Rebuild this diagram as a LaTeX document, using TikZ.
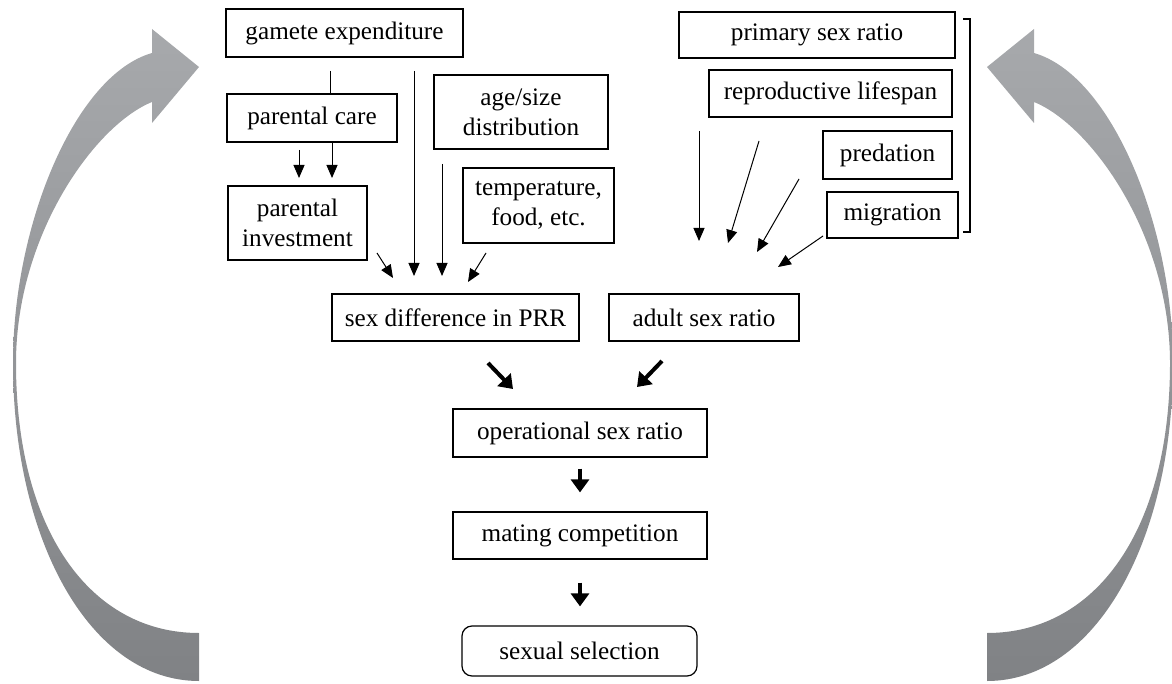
\documentclass[tikz,border=0pt]{standalone}
\usepackage{fontspec}
\setmainfont{Liberation Serif}
\usetikzlibrary{arrows.meta}

\definecolor{loopLight}{HTML}{A7A9AC}
\definecolor{loopDark}{HTML}{808285}

\begin{document}
\begin{tikzpicture}[x=0.5pt, y=-0.5pt,
    box/.style={rectangle, draw, line width=0.6pt, inner sep=1pt, align=center,
      font=\fontsize{12.6}{15}\selectfont},
    arr/.style={line width=0.5pt, -{Triangle[length=6.5pt,width=5.5pt]}},
    bigarr/.style={line width=2pt, -{Triangle[length=6.5pt,width=9pt]}}]
        \useasboundingbox (0,0) rectangle (1172,684);

        % Big grey loop arrows (left, then mirrored right)
        \foreach \sx/\dx in {1/0, -1/1186} {
          \begin{scope}[shift={(\dx,0)}, xscale=\sx]
            \shade[top color=loopLight, bottom color=loopDark]
              (199,681) .. controls (90,681) and (13,540) .. (13,363)
              .. controls (13,225) and (75,75) .. (152,53)
              -- (152,29) -- (199,67) -- (152,123) -- (152,102)
              .. controls (95,125) and (16,235) .. (16,363)
              .. controls (16,530) and (90,633) .. (199,633) -- cycle;
          \end{scope}
        }

        % Boxes: name / centre x / centre y / width / height / text
        \foreach \nm/\x/\y/\w/\h/\txt in {
            gam/344.5/33/118.5/24/{gamete expenditure},
            care/312/118/85/24/{parental care},
            inv/297.5/223/69.5/37/{parental\\investment},
            age/521/112/87/37/{age/size\\distribution},
            temp/538.5/205.5/75.5/37.5/{temperature,\\food, etc.},
            prr/455.5/317.5/123.5/23.5/{sex difference in PRR},
            asr/704/317.5/95/23.5/{adult sex ratio},
            osr/580/433/127/24/{operational sex ratio},
            mat/580/535.5/127/23.5/{mating competition},
            psr/817/35/138/23/{primary sex ratio},
            life/830.5/93.5/121.5/23.5/{reproductive lifespan},
            pred/887.5/155/64.5/24/{predation},
            mig/892.5/215/65.5/23/{migration}} {
          \node[box, minimum width=\w pt, minimum height=\h pt] (\nm) at (\x,\y) {\txt};
        }
        \node[box, rounded corners=5pt, minimum width=117.5pt, minimum height=25pt] (sel) at (579.5,651) {sexual selection};

        % Bracket round the right-hand group
        \coordinate (brT) at (963,19);
        \coordinate (brB) at (963,232);
        \draw[line width=1pt] (brT) -- ++(7,0) -- ([xshift=3.5pt]brB) -- (brB);

        % Thin line from gamete expenditure down to parental care
        \coordinate (g1) at (330,71);
        \draw[line width=0.5pt] (g1) -- (g1 |- care.north);

        % Thin arrows with free ends
        \foreach \n/\xa/\ya/\xb/\yb in {
            ca/299/150/299/178, cb/332/142/332/178,
            ga/414/71/414/276, ta/442/164/442/276,
            ia/377/253/393/278, fa/486/253/468/282,
            ra/699/131/699/241, rb/759/141/728/243,
            rc/799/179/757/252, rd/823/236/778/267} {
          \coordinate (\n s) at (\xa,\ya);
          \coordinate (\n e) at (\xb,\yb);
          \draw[arr] (\n s) -- (\n e);
        }

        % Thick arrows towards the operational sex ratio
        \coordinate (pa) at (488,363);
        \coordinate (pb) at (513,389);
        \coordinate (aa) at (662,361);
        \coordinate (ab) at (637,387);
        \draw[bigarr] (pa) -- (pb);
        \draw[bigarr] (aa) -- (ab);
        \draw[bigarr, shorten <=5.5pt, shorten >=9.5pt] (osr) -- (mat);
        \draw[bigarr, shorten <=11.5pt, shorten >=9.5pt] (mat) -- (sel.north -| mat);
    \end{tikzpicture}
\end{document}
